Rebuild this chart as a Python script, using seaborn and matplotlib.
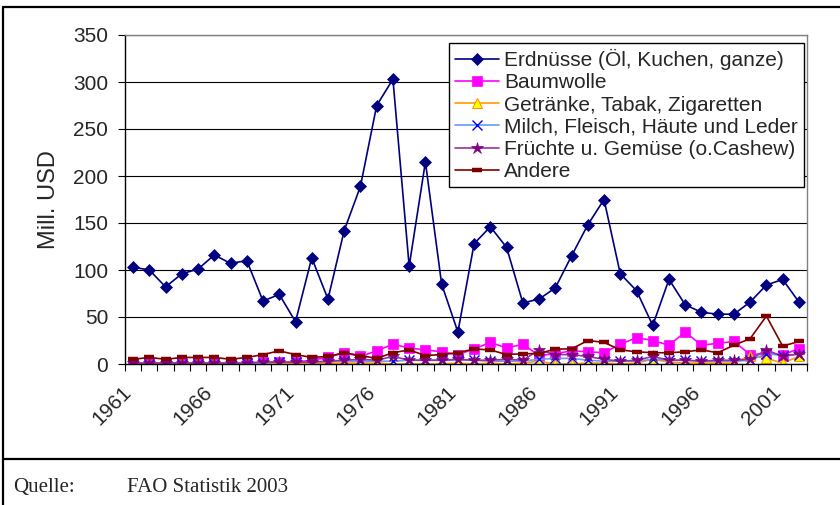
import numpy as np
import pandas as pd
import seaborn as sns
import matplotlib.pyplot as plt
from matplotlib.lines import Line2D
from matplotlib.transforms import ScaledTranslation

# Daten (Mill. USD), 1961-2002
years = list(range(1961, 2003))

erdnuesse = [103, 100, 82, 96, 101, 116, 107, 110, 67, 74,
             45, 113, 69, 142, 189, 275, 303, 104, 215, 85,
             34, 128, 146, 124, 65, 69, 81, 115, 148, 175,
             96, 78, 41, 90, 63, 55, 53, 53, 66, 84,
             90, 66]
baumwolle = [1, 1, 1, 1, 1, 1, 1, 1, 2, 2,
             2, 4, 7, 12, 8, 14, 21, 17, 15, 13,
             10, 16, 23, 17, 21, 9, 11, 14, 13, 12,
             21, 28, 25, 20, 34, 20, 22, 24, 10, 11,
             10, 16]
getraenke = [1, 1, 1, 1, 1, 1, 1, 1, 1, 1,
             1, 1, 1, 1, 1, 1, 0, 0, 0, 0,
             1, 0, 1, 0, 1, 3, 0, 0, 1, 1,
             0, 1, 5, 2, 1, 1, 1, 1, 9, 6,
             1, 8]
milch = [0, 0, 0, 0, 0, 0, 0, 1, 1, 2,
         2, 2, 3, 3, 3, 3, 3, 4, 4, 4,
         4, 4, 3, 3, 3, 5, 6, 6, 4, 3,
         3, 3, 5, 4, 4, 3, 3, 3, 4, 11,
         9, 10]
fruechte = [1, 1, 1, 1, 1, 1, 1, 1, 2, 2,
            2, 2, 3, 4, 5, 4, 8, 4, 4, 4,
            5, 4, 4, 5, 4, 15, 10, 10, 8, 5,
            3, 4, 8, 4, 4, 3, 4, 4, 5, 15,
            8, 11]
andere = [5, 7, 5, 7, 7, 7, 5, 7, 10, 14,
          10, 7, 8, 12, 9, 6, 12, 15, 9, 10,
          12, 16, 15, 10, 11, 11, 16, 16, 25, 23,
          15, 13, 12, 12, 13, 15, 12, 20, 27, 51,
          19, 24]

labels = ["Erdnüsse (Öl, Kuchen, ganze)", "Baumwolle", "Getränke, Tabak, Zigaretten",
          "Milch, Fleisch, Häute und Leder", "Früchte u. Gemüse (o.Cashew)", "Andere"]

sns.set_theme(style="ticks")
plt.rcParams['font.family'] = ['Liberation Sans', 'DejaVu Sans']

fig = plt.figure(figsize=(8.4, 5.05), dpi=100)
ax = fig.add_axes([125 / 840, 1 - 364 / 505, 682 / 840, 329 / 505])

styles = [
    dict(color="#000080", marker="D", markersize=6.3, markerfacecolor="#000080",
         markeredgecolor="#000080", markeredgewidth=0.5),
    dict(color="#FF00FF", marker="s", markersize=7, markerfacecolor="#FF00FF",
         markeredgecolor="#FF00FF", markeredgewidth=0.5),
    dict(color="#FF9900", marker="^", markersize=7, markerfacecolor="#FFFF00",
         markeredgecolor="#FF9900", markeredgewidth=0.8),
    dict(color="#6699FF", marker="x", markersize=6.5, markerfacecolor="#0000FF",
         markeredgecolor="#0000FF", markeredgewidth=1.0),
    dict(color="#993399", marker="*", markersize=9, markerfacecolor="#800080",
         markeredgecolor="#800080", markeredgewidth=0.5),
    dict(color="#800000", marker="_", markersize=7, markerfacecolor="#800000",
         markeredgecolor="#800000", markeredgewidth=3.2),
]
values = [erdnuesse, baumwolle, getraenke, milch, fruechte, andere]

for lab, vals, st in zip(labels, values, styles):
    sns.lineplot(x=years, y=vals, ax=ax, label=lab, linewidth=1.2, **st)

ax.set_xlim(1960.5, 2002.5)
ax.set_ylim(0, 350)
ax.set_yticks(range(0, 351, 50))
ax.yaxis.grid(True, color="black", linewidth=0.8)
ax.set_axisbelow(True)

ax.set_xticks(years[::5])
ax.set_xticklabels([str(y) for y in years[::5]], rotation=45, ha="right",
                   va="center", rotation_mode="anchor")
ax.set_xticks(np.arange(1960.5, 2003, 1), minor=True)
ax.tick_params(axis="x", which="major", length=0, pad=18, labelsize=15)
ax.tick_params(axis="x", which="minor", length=5, width=0.8, color="black", bottom=True)
ax.tick_params(axis="y", length=5, width=0.8, color="black", pad=7, labelsize=15, left=True)
shift = ScaledTranslation(-0.045, 0, fig.dpi_scale_trans)
for t in ax.get_xticklabels():
    t.set_transform(t.get_transform() + shift)

for s in ["left", "bottom"]:
    ax.spines[s].set_color("black")
    ax.spines[s].set_linewidth(1.0)
for s in ["top", "right"]:
    ax.spines[s].set_visible(True)
    ax.spines[s].set_color("#808080")
    ax.spines[s].set_linewidth(1.0)

ax.set_xlabel("")
ax.set_ylabel("Mill. USD", fontsize=17)
ax.yaxis.set_label_coords(-0.095, 0.5)

leg = ax.legend(loc="upper right", bbox_to_anchor=(1 - 3 / 682, 1 - 8 / 329),
                borderaxespad=0, frameon=True, fancybox=False, edgecolor="black",
                framealpha=1, fontsize=15, handlelength=2.1, handletextpad=0.25,
                labelspacing=0.15, borderpad=0.3)
leg.get_frame().set_linewidth(1.0)

# Rahmen und Quelle
fig.add_artist(Line2D([3 / 840, 3 / 840], [0, 1 - 7 / 505], transform=fig.transFigure,
                      color="black", linewidth=1.6))
fig.add_artist(Line2D([3 / 840, 1], [1 - 7 / 505, 1 - 7 / 505], transform=fig.transFigure,
                      color="black", linewidth=1.6))
fig.add_artist(Line2D([3 / 840, 1], [1 - 459 / 505, 1 - 459 / 505], transform=fig.transFigure,
                      color="black", linewidth=1.6))
fig.text(13 / 840, 1 - 492 / 505, "Quelle:", fontsize=15, family="Liberation Serif",
         va="baseline")
fig.text(127 / 840, 1 - 492 / 505, "FAO Statistik 2003", fontsize=15,
         family="Liberation Serif", va="baseline")

fig.savefig("out.png", dpi=100)
